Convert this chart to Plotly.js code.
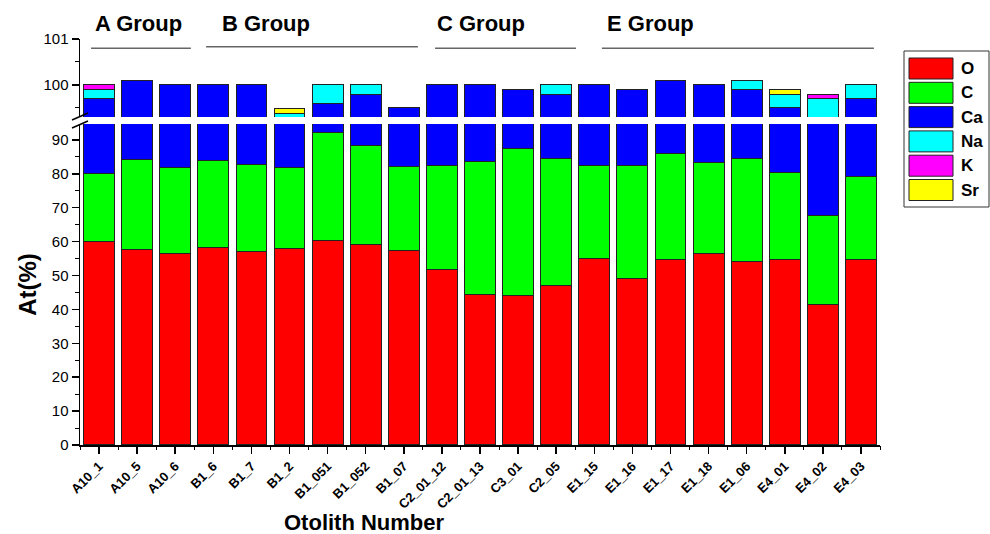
<!DOCTYPE html>
<html><head><meta charset="utf-8">
<script src="https://cdn.plot.ly/plotly-3.0.1.min.js"></script>
<style>body{margin:0;background:#fff}#chart{width:990px;height:534px}</style>
</head><body><div id="chart"></div>
<script>
// ---- data ----
const samples = ['A10_1','A10_5','A10_6','B1_6','B1_7','B1_2','B1_051','B1_052','B1_07','C2_01_12','C2_01_13','C3_01','C2_05','E1_15','E1_16','E1_17','E1_18','E1_06','E4_01','E4_02','E4_03'];
const oVals  = [60.0,57.8,56.6,58.3,57.2,57.9,60.2,59.2,57.4,51.8,44.3,44.1,47.0,55.0,49.0,54.7,56.6,54.2,54.8,41.5,54.8];
const cVals  = [20.1,26.4,25.2,25.7,25.5,23.9,31.9,29.3,24.7,30.7,39.2,43.4,37.4,27.6,33.5,31.4,26.7,30.3,25.7,26.3,24.3];
const caVals = [19.6,15.9,18.2,16.0,17.3,17.4,7.5,11.3,17.4,17.5,16.5,12.4,15.4,17.4,17.4,14.0,16.7,15.4,19.0,31.4,20.6];
const naVals = [0.2,0,0,0,0,0.18,0.4,0.2,0,0,0,0,0.2,0,0,0,0,0.2,0.3,0.5,0.3];
const kVals  = [0.1,0,0,0,0,0,0,0,0,0,0,0,0,0,0,0,0,0,0,0.1,0];
const srVals = [0,0,0,0,0,0.11,0,0,0,0,0,0,0,0,0,0,0,0,0.1,0,0];
const seriesNames  = ['O','C','Ca','Na','K','Sr'];
const seriesColors = ['#FF0000','#00FF00','#0000FF','#00FFFF','#FF00FF','#FFFF00'];
const groupNames = ['A Group','B Group','C Group','E Group'];
const yTitle = 'At(%)';
const xTitle = 'Otolith Number';

// ---- build ----
const seriesVals = [oVals,cVals,caVals,naVals,kVals,srVals];
const FONT = 'Arial, "Liberation Sans", sans-serif';
const traces = [];
['y','y2'].forEach(ax => {
  seriesNames.forEach((nm,i) => {
    traces.push({
      type:'bar', x:samples, y:seriesVals[i], name:nm, xaxis:'x', yaxis:ax,
      marker:{color:seriesColors[i], line:{color:'#222', width:1}},
      showlegend:false, hoverinfo:'x+y+name'
    });
  });
});
// invisible trace to carry boundary (minor) ticks on the x axis
traces.push({type:'scatter', mode:'markers', x:samples, y:samples.map(()=>0), xaxis:'x2', yaxis:'y',
  marker:{opacity:0}, showlegend:false, hoverinfo:'skip'});

// pixel helpers for paper coords (plot area: x 80..880, y 39..445)
const px = v => (v-80)/800;
const py = v => (445-v)/406;

const shapes = [];
const annotations = [];

// group spans (category-index coordinates)
const groupSpans = [[-0.21,2.41,48.3],[2.81,8.37,46.7],[8.82,12.52,48.3],[13.2,20.34,48.3]];
const groupLabelX = [-0.16,3.17,8.82,13.28];
groupNames.forEach((g,i)=>{
  const s = groupSpans[i];
  shapes.push({type:'line', xref:'x', yref:'paper', x0:s[0], x1:s[1], y0:py(s[2]), y1:py(s[2]),
    line:{color:'#666', width:1.5}});
  annotations.push({text:g, xref:'x', yref:'paper', x:groupLabelX[i], y:py(23), xanchor:'left', yanchor:'middle',
    showarrow:false, font:{family:FONT, size:22, weight:'bold', color:'#000'}});
});

// axis break marks
[[72,120,88,113],[72,128,88,121]].forEach(b=>{
  shapes.push({type:'line', xref:'paper', yref:'paper', x0:px(b[0]), y0:py(b[1]), x1:px(b[2]), y1:py(b[3]),
    line:{color:'#000', width:1.5}});
});

// x title
annotations.push({text:xTitle, xref:'paper', yref:'paper', x:px(364), y:py(522), xanchor:'center', yanchor:'middle',
  showarrow:false, font:{family:FONT, size:22, weight:'bold', color:'#000'}});

// custom legend
shapes.push({type:'rect', xref:'paper', yref:'paper', x0:px(904), x1:px(989), y0:py(51), y1:py(207),
  line:{color:'#333', width:1}, fillcolor:'rgba(0,0,0,0)'});
seriesNames.forEach((nm,i)=>{
  const top = 58 + 24.3*i;
  shapes.push({type:'rect', xref:'paper', yref:'paper', x0:px(909), x1:px(953), y0:py(top), y1:py(top+21),
    line:{color:'#222', width:1}, fillcolor:seriesColors[i]});
  annotations.push({text:nm, xref:'paper', yref:'paper', x:px(959), y:py(top+10.5), xanchor:'left', yanchor:'middle',
    showarrow:false, font:{family:FONT, size:17, weight:'bold', color:'#000'}});
});

const layout = {
  width:990, height:534,
  margin:{l:80, r:110, t:39, b:89},
  paper_bgcolor:'#fff', plot_bgcolor:'#fff',
  font:{family:FONT, color:'#000'},
  barmode:'stack', bargap:0.19,
  showlegend:false,
  xaxis:{type:'category', categoryorder:'array', categoryarray:samples, range:[-0.5,20.5], anchor:'y',
    tickangle:-45, tickfont:{family:FONT, size:13, weight:'bold'},
    ticks:'outside', ticklen:7, tickwidth:1.5, tickcolor:'#000',
    showline:true, linewidth:1.5, linecolor:'#000', showgrid:false, zeroline:false},
  xaxis2:{type:'category', categoryorder:'array', categoryarray:samples, range:[-0.5,20.5], overlaying:'x', anchor:'y',
    tickson:'boundaries', ticks:'outside', ticklen:4, tickwidth:1, tickcolor:'#000',
    showticklabels:false, showgrid:false, showline:false, zeroline:false},
  yaxis:{domain:[0,0.7906], range:[0,94.7], tick0:0, dtick:10, anchor:'x',
    ticks:'outside', ticklen:7, tickwidth:1.5, tickcolor:'#000',
    minor:{dtick:5, tick0:0, ticks:'outside', ticklen:4, tickwidth:1, tickcolor:'#000', showgrid:false},
    tickfont:{family:FONT, size:15},
    showline:true, linewidth:1.5, linecolor:'#000', showgrid:false, zeroline:false,
    title:{text:yTitle, font:{family:FONT, size:24, weight:'bold'}, standoff:8}},
  yaxis2:{domain:[0.808,1], range:[99.3,101], tick0:0, dtick:1, anchor:'x',
    ticks:'outside', ticklen:7, tickwidth:1.5, tickcolor:'#000',
    minor:{dtick:0.5, tick0:0, ticks:'outside', ticklen:4, tickwidth:1, tickcolor:'#000', showgrid:false},
    tickfont:{family:FONT, size:15},
    showline:true, linewidth:1.5, linecolor:'#000', showgrid:false, zeroline:false},
  shapes:shapes,
  annotations:annotations
};
Plotly.newPlot('chart', traces, layout, {displayModeBar:false, staticPlot:true});
</script>
</body></html>
